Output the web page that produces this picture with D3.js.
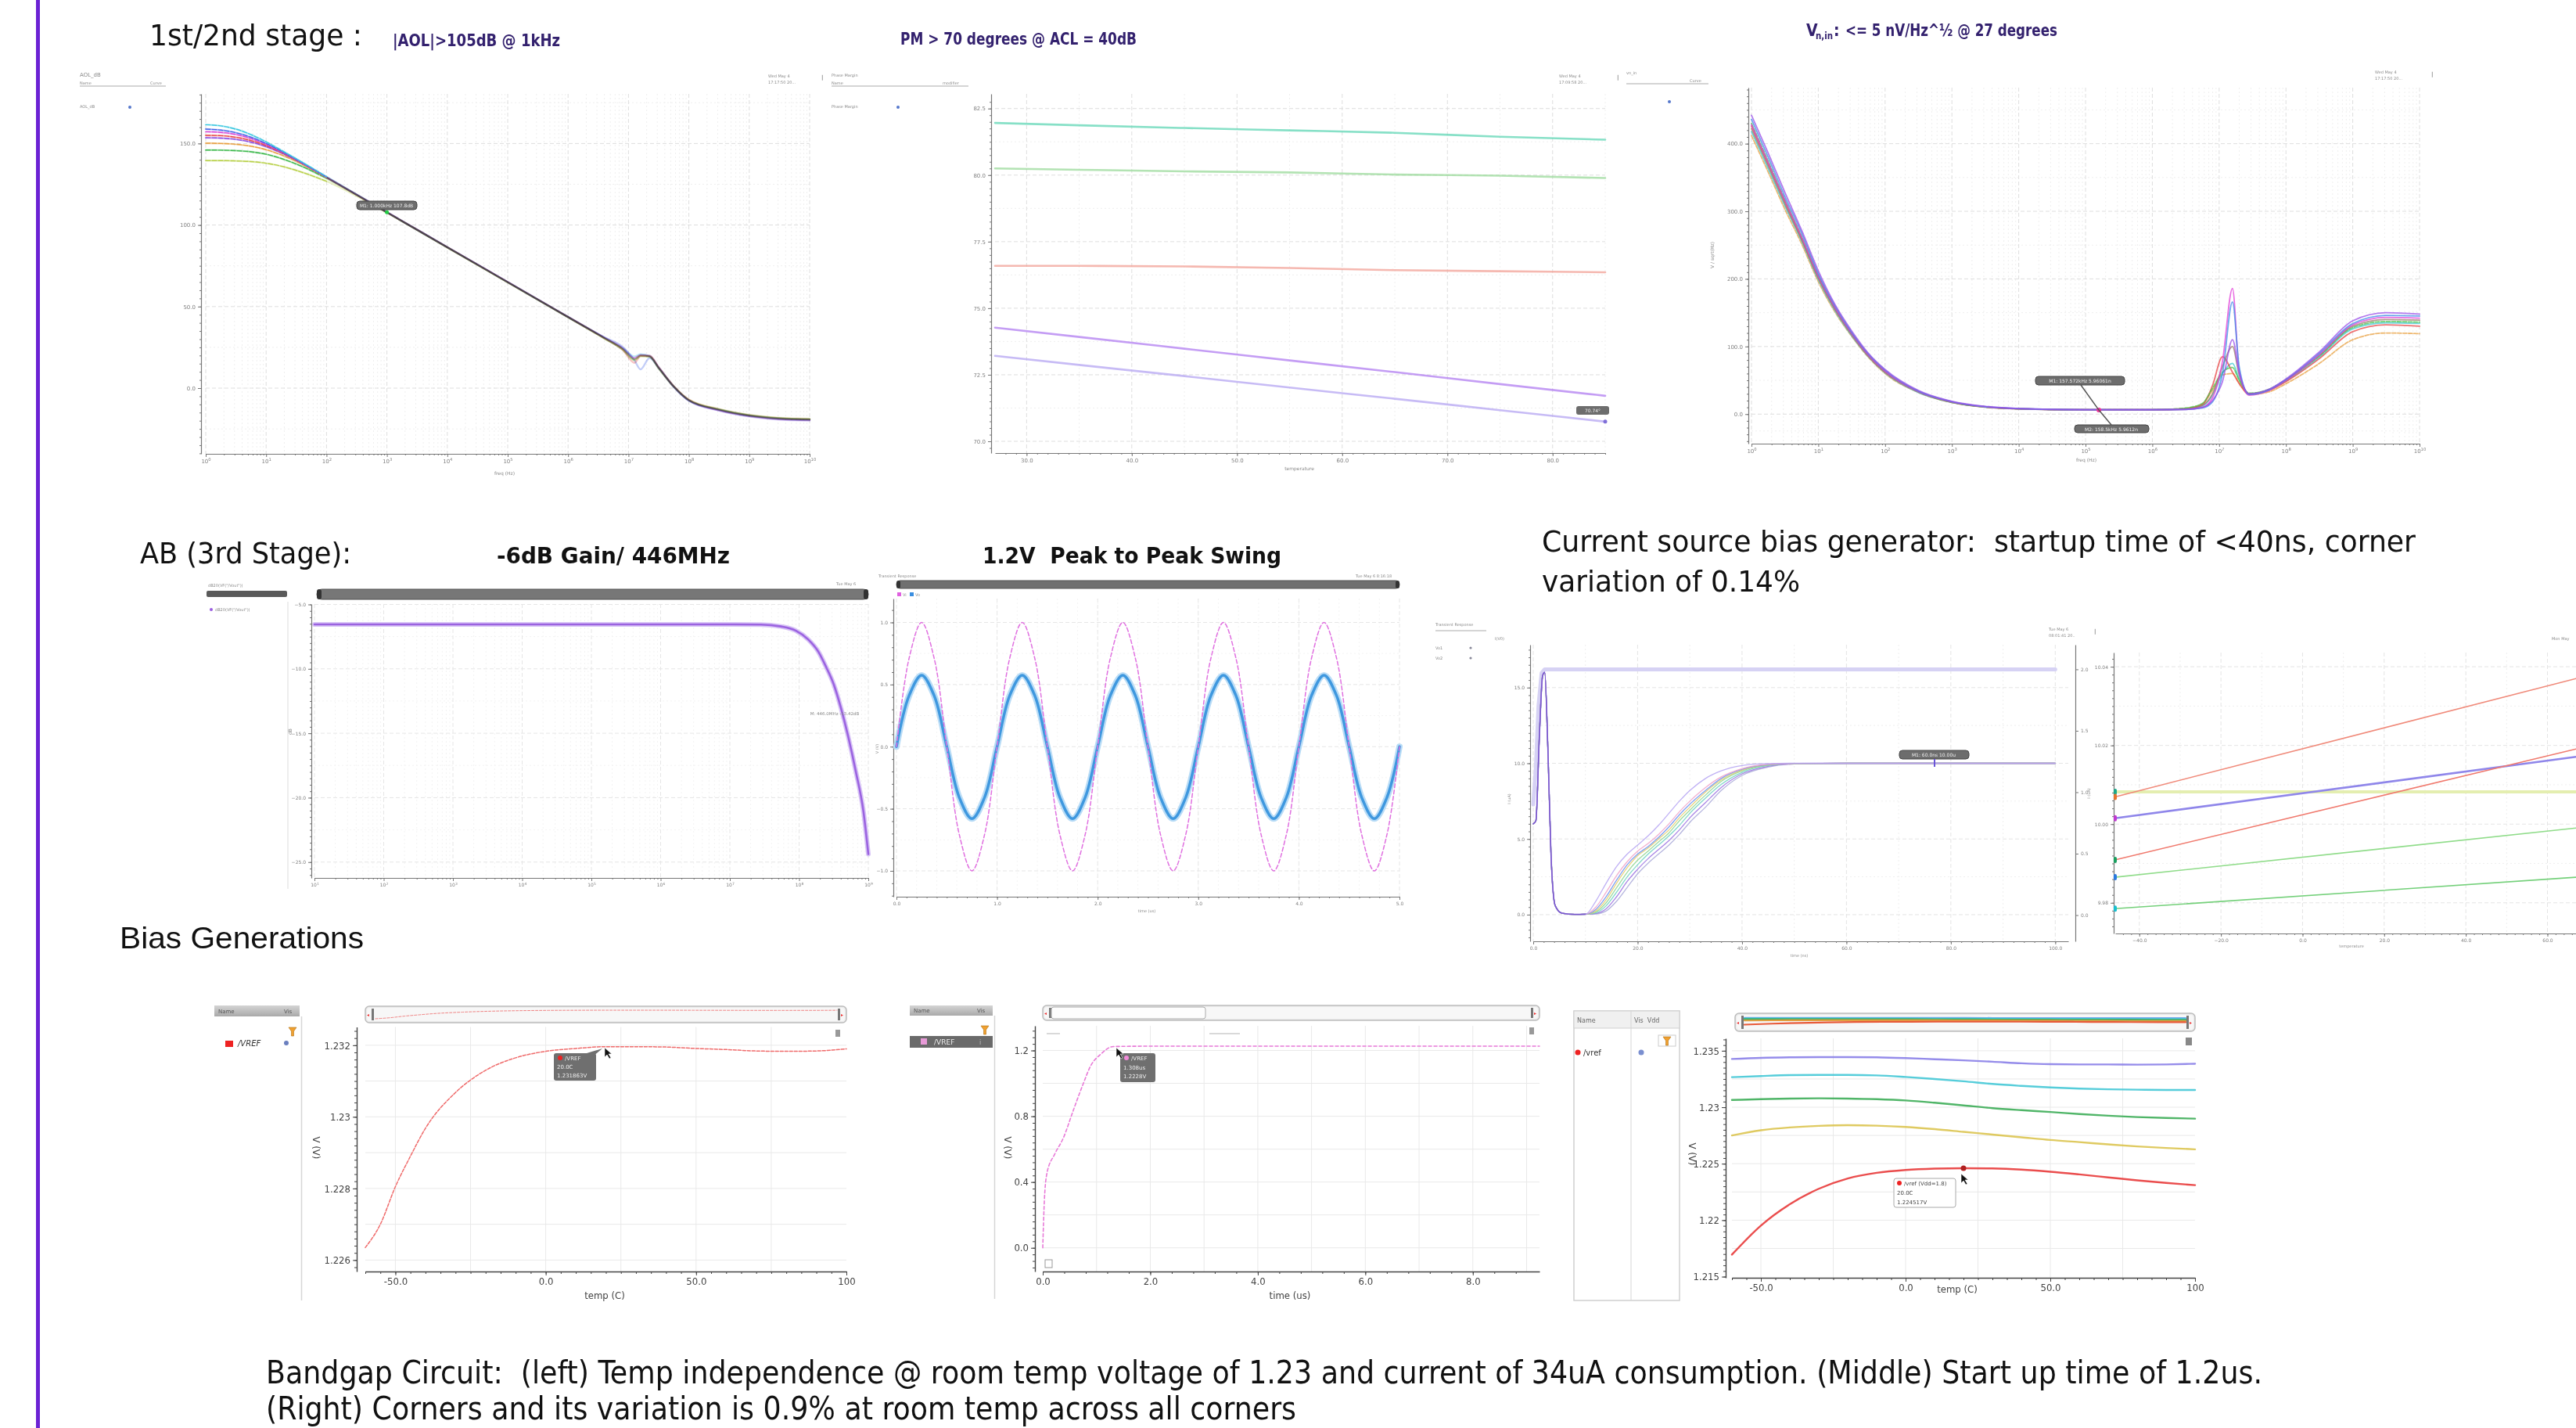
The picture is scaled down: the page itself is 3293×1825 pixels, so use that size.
<!DOCTYPE html>
<html><head><meta charset="utf-8">
<script src="https://cdn.jsdelivr.net/npm/d3@7/dist/d3.min.js"></script>
<style>html,body{margin:0;padding:0;background:#fff;overflow:hidden}svg{display:block}text{white-space:pre}</style>
</head><body>
<svg id="chart" width="3293" height="1825" xmlns="http://www.w3.org/2000/svg"></svg>
<script>
// ================= DATA =================
// 1st/2nd stage open-loop gain (dB) vs log10(freq)
const aolLogFreq = [0,0.25,0.5,0.75,1,1.25,1.5,2,3,4,5,6,6.6,6.9,7.1,7.2,7.35,7.5,7.75,8,8.5,9,9.5,10];
const aolCyan    = [161.5,160.8,158.8,155.4,151.0,145.9,140.6,129.6,107.8,86.4,65.0,43.6,30.9,24.6,19.5,20.8,19.6,12.6,1.0,-7.4,-13.2,-16.8,-18.6,-19.2];
const aolBlue    = [158.8,158.2,156.6,153.8,150.0,145.3,140.2,129.4,107.8,86.4,65.0,43.6,31.2,25.4,17.0,11.5,18.5,12.2,0.6,-7.8,-13.6,-17.2,-19.0,-19.6];
const aolMagenta = [157.2,156.8,155.5,153.0,149.4,145.0,140.0,129.3,107.9,86.5,65.1,43.7,31.0,24.8,18.6,20.2,19.4,12.4,0.8,-7.6,-13.5,-17.0,-18.9,-19.5];
const aolRed     = [155.0,154.8,153.8,151.8,148.7,144.6,139.8,129.2,107.8,86.4,65.0,43.6,30.6,23.6,15.5,19.6,19.8,12.8,1.2,-7.2,-13.3,-16.9,-18.7,-19.3];
const aolPurple  = [153.5,153.3,152.5,150.8,148.0,144.2,139.6,129.2,107.8,86.4,65.0,43.6,30.8,24.4,18.2,20.4,19.9,12.9,1.0,-7.6,-13.8,-17.4,-19.3,-19.9];
const aolOrange  = [150.2,150.0,149.5,148.3,146.2,143.0,139.0,129.0,107.7,86.3,64.9,43.5,30.7,24.1,17.8,20.0,19.5,12.5,1.2,-7.0,-12.8,-16.4,-18.2,-18.8];
const aolGreen   = [146.0,145.9,145.6,144.9,143.4,140.8,137.4,128.6,107.7,86.3,64.9,43.5,30.5,23.8,17.4,19.8,19.3,12.2,0.9,-7.3,-13.0,-16.6,-18.4,-19.0];
const aolLime    = [139.5,139.5,139.3,138.9,137.9,136.1,133.5,126.8,107.5,86.2,64.8,43.4,30.4,23.6,17.0,19.5,19.2,12.0,0.7,-7.5,-13.1,-16.7,-18.5,-19.1];
const aolTicksY = [0,50,100,150];
const aolDecades = [0,1,2,3,4,5,6,7,8,9,10];
const aolMarker = [3, 107.8];

// phase margin (deg) vs temperature
const pmTemp   = [27,35,45,55,65,75,85];
const pmTeal   = [81.96,81.87,81.77,81.68,81.59,81.44,81.33];
const pmGreen  = [80.25,80.20,80.14,80.10,80.02,79.98,79.89];
const pmSalmon = [76.59,76.59,76.57,76.51,76.43,76.39,76.35];
const pmPurple = [74.27,73.92,73.48,73.04,72.60,72.15,71.71];
const pmViolet = [73.21,72.87,72.45,72.02,71.60,71.17,70.74];
const pmTicksY = [70,72.5,75,77.5,80,82.5];
const pmTicksX = [30,40,50,60,70,80];

// input referred noise (nV/sqrt(Hz)) vs log10(freq)
const noiseLogFreq = [0,0.25,0.5,0.75,1,1.25,1.5,1.75,2,2.5,3,3.5,4,5,6,6.5,6.75,6.9,7.05,7.2,7.3,7.45,7.75,8,8.5,9,9.5,10];
const noisePurple  = [442,386,328,272,212,162,123,90,66,35,19,11.5,8.3,6.6,6.5,7.0,10,20,48,110,62,30,37,52,92,138,150,148];
const noiseBlue    = [436,380,322,268,208,160,121,89,65,34,18.5,11,8.1,6.5,6.4,6.8,9,18,60,166,70,29,36,51,90,134,146,145];
const noiseMagenta = [428,372,316,262,204,157,119,87,63,33,18,10.8,8,6.5,6.4,6.9,10,24,78,186,64,28,35,50,88,132,143,142];
const noiseBrown   = [422,367,311,258,201,155,118,86,62,33,17.8,10.7,7.9,6.4,6.4,7.2,13,30,70,100,58,30,36,50,87,130,140,139];
const noiseGreen   = [430,374,317,263,205,157,119,87,63,33,17.6,10.6,7.9,6.5,6.6,9,16,38,62,69,50,31,37,51,86,128,137,136];
const noiseRed     = [426,370,314,260,203,156,118,86,62,33,17.5,10.5,7.8,6.4,6.5,8,14,42,85,62,45,30,35,48,82,122,132,130];
const noiseCyan    = [418,363,308,256,199,153,116,85,61,32,17.3,10.4,7.8,6.4,6.4,7.5,12,28,60,75,52,30,36,49,84,126,135,134];
const noiseOrange  = [412,358,303,252,196,151,115,84,60,32,17.2,10.3,7.7,6.4,6.5,8.5,15,35,58,60,46,29,33,45,75,110,120,119];
const noiseTicksY = [0,100,200,300,400];
const noiseMarker = [5.2, 5.96];

// class AB stage gain (dB) vs log10(freq)
const abLogFreq = [1,2,3,4,5,6,7,7.45,7.74,7.95,8.13,8.28,8.39,8.5,8.6,8.71,8.82,8.93,9];
const abGainDb  = [-6.55,-6.55,-6.55,-6.55,-6.55,-6.55,-6.55,-6.56,-6.71,-7.03,-7.71,-8.68,-9.85,-11.2,-12.95,-15.27,-17.98,-21.09,-24.38];
const abTicksY = [-25,-20,-15,-10,-5];
const abDecades = [1,2,3,4,5,6,7,8,9];

// output swing transient (V) vs time (us)
const swingTime = [0,0.125,0.25,0.375,0.5,0.625,0.75,0.875,1,1.125,1.25,1.375,1.5,1.625,1.75,1.875,2,2.125,2.25,2.375,2.5,2.625,2.75,2.875,3,3.125,3.25,3.375,3.5,3.625,3.75,3.875,4,4.125,4.25,4.375,4.5,4.625,4.75,4.875,5];
const swingVin  = [0,0.71,1.0,0.71,0,-0.71,-1.0,-0.71,0,0.71,1.0,0.71,0,-0.71,-1.0,-0.71,0,0.71,1.0,0.71,0,-0.71,-1.0,-0.71,0,0.71,1.0,0.71,0,-0.71,-1.0,-0.71,0,0.71,1.0,0.71,0,-0.71,-1.0,-0.71,0];
const swingVout = [0,0.41,0.575,0.41,0,-0.41,-0.58,-0.41,0,0.41,0.575,0.41,0,-0.41,-0.58,-0.41,0,0.41,0.575,0.41,0,-0.41,-0.58,-0.41,0,0.41,0.575,0.41,0,-0.41,-0.58,-0.41,0,0.41,0.575,0.41,0,-0.41,-0.58,-0.41,0];
const swingTicksY = [-1,-0.5,0,0.5,1];
const swingTicksX = [0,1,2,3,4,5];

// current source bias startup (uA) vs time (ns)
const csTime     = [0,0.5,1.2,1.8,2.2,2.8,3.4,4.2,5.5,8,10,12,14,16,18,20,22,24,26,28,30,33,36,40,45,50,60,80,100];
const csLavender = [6.0,6.2,12.0,15.8,16.0,11.0,4.0,0.6,0.1,0.02,0.03,0.9,2.1,3.2,4.0,4.6,5.2,5.9,6.7,7.5,8.2,9.0,9.5,9.85,9.98,10.0,10.0,10.0,10.0];
const csPink     = [6.0,6.2,12.0,15.8,16.0,11.0,4.0,0.6,0.1,0.02,0.03,0.5,1.5,2.6,3.5,4.2,4.7,5.3,6.0,6.8,7.5,8.4,9.1,9.65,9.93,9.99,10.0,10.0,10.0];
const csBlue     = [6.0,6.2,12.0,15.8,16.0,11.0,4.0,0.6,0.1,0.02,0.03,0.35,1.2,2.3,3.3,4.0,4.5,5.1,5.8,6.6,7.3,8.2,9.0,9.6,9.92,9.99,10.0,10.0,10.0];
const csYellow   = [6.0,6.2,12.0,15.8,16.0,11.0,4.0,0.6,0.1,0.02,0.03,0.25,1.0,2.1,3.1,3.9,4.4,5.0,5.6,6.4,7.1,8.1,8.9,9.55,9.9,9.98,10.0,10.0,10.0];
const csGreen    = [6.0,6.2,12.0,15.8,16.0,11.0,4.0,0.6,0.1,0.02,0.03,0.18,0.8,1.8,2.8,3.6,4.2,4.8,5.4,6.2,6.9,7.9,8.8,9.5,9.88,9.98,10.0,10.0,10.0];
const csTeal     = [6.0,6.2,12.0,15.8,16.0,11.0,4.0,0.6,0.1,0.02,0.03,0.12,0.6,1.5,2.5,3.3,4.0,4.6,5.2,5.9,6.7,7.7,8.6,9.4,9.85,9.97,10.0,10.0,10.0];
const csPurple   = [6.0,6.2,12.0,15.8,16.0,11.0,4.0,0.6,0.1,0.02,0.03,0.08,0.4,1.2,2.2,3.0,3.7,4.3,4.9,5.6,6.4,7.4,8.4,9.3,9.8,9.96,10.0,10.0,10.0];
const csGrey     = [6.0,6.2,12.0,15.8,16.0,11.0,4.0,0.6,0.1,0.02,0.03,0.05,0.25,0.9,1.8,2.7,3.4,4.0,4.6,5.3,6.1,7.1,8.2,9.2,9.75,9.95,10.0,10.0,10.0];
const csSupplyTime = [0,0.5,1.0,1.6,2.2,100];
const csSupply     = [0.9,1.2,1.7,1.97,2.0,2.0];
const csTicksX = [0,20,40,60,80,100];
const csTicksY = [0,5,10,15];
const csTicksYR = [0,0.5,1,1.5,2];

// current source corners (uA) vs temperature
const ccTemp   = [-46,67];
const ccRedA   = [10.0069,10.0370];
const ccBlue   = [10.0015,10.0171];
const ccRedB   = [9.9909,10.0191];
const ccYellow = [10.0082,10.0082];
const ccGreenA = [9.9865,9.9990];
const ccGreenB = [9.9785,9.9865];
const ccTicksX = [-40,-20,0,20,40,60];
const ccTicksY = [9.98,10.0,10.02,10.04];

// bandgap VREF vs temp
const bgTemp = [-60,-55,-50,-45,-40,-30,-20,-10,0,10,20,30,40,50,60,70,80,90,100];
const bgVref = [1.22635,1.22700,1.22805,1.22890,1.22968,1.23068,1.23130,1.23165,1.23183,1.23191,1.23196,1.23196,1.23195,1.23191,1.23188,1.23184,1.23183,1.23184,1.23190];
const bgTicksY = [1.226,1.228,1.23,1.232];
const bgTicksX = [-50,0,50,100];

// bandgap startup
const suTime = [0,0.03,0.08,0.22,0.38,0.58,0.74,0.9,1.07,1.31,1.87,3,5,7,9.24];
const suVref = [0,0.289,0.457,0.568,0.666,0.847,0.987,1.112,1.175,1.224,1.226,1.2265,1.2265,1.2265,1.2265];
const suTicksY = [0,0.4,0.8,1.2];
const suTicksX = [0,2,4,6,8];

// bandgap corners
const bcTemp   = [-60,-50,-40,-30,-20,-10,0,10,20,30,40,50,60,70,80,90,100];
const bcBlue   = [1.23427,1.23437,1.23442,1.23444,1.23444,1.23442,1.23435,1.23425,1.23415,1.23403,1.23389,1.23381,1.23379,1.23379,1.23377,1.23379,1.23385];
const bcCyan   = [1.23266,1.23276,1.23284,1.23286,1.23286,1.23282,1.23268,1.2325,1.2323,1.23206,1.23189,1.23175,1.23165,1.23159,1.23155,1.23153,1.23153];
const bcGreen  = [1.23064,1.23071,1.23077,1.23079,1.23077,1.23071,1.2306,1.2304,1.23016,1.22992,1.22974,1.22958,1.2294,1.22925,1.22913,1.22905,1.22899];
const bcYellow = [1.2275,1.22796,1.22821,1.22835,1.22841,1.22837,1.22825,1.22806,1.22782,1.22758,1.22734,1.2271,1.22691,1.22671,1.22653,1.22639,1.22627];
const bcRed    = [1.21695,1.21952,1.22141,1.22278,1.22369,1.22419,1.22444,1.22456,1.2246,1.22458,1.22448,1.22429,1.22405,1.22379,1.22353,1.2233,1.2231];
const bcTicksY = [1.215,1.22,1.225,1.23,1.235];

// ================= DRAWING =================
const svg = d3.select('#chart');
const NARROW = "'Liberation Sans Narrow','Arial Narrow','DejaVu Sans Condensed',sans-serif";
const SANS = "'Liberation Sans','DejaVu Sans',Arial,sans-serif";
const TINY = "'DejaVu Sans',sans-serif";
const COND = "'DejaVu Sans Condensed','DejaVu Sans',sans-serif";

function T(x, y, s, o = {}) {
  const p = o.parent || svg;
  const t = p.append('text').attr('x', x).attr('y', y).text(s)
    .attr('font-family', o.ff || TINY).attr('font-size', o.fs || 7)
    .attr('fill', o.fill || '#8a8a8a');
  if (o.fw) t.attr('font-weight', o.fw);
  if (o.anchor) t.attr('text-anchor', o.anchor);
  if (o.len) t.attr('textLength', o.len).attr('lengthAdjust', 'spacingAndGlyphs');
  if (o.rot) t.attr('transform', `rotate(${o.rot},${x},${y})`);
  if (o.fst) t.attr('font-style', o.fst);
  return t;
}
function R(x, y, w, h, o = {}) {
  const p = o.parent || svg;
  return p.append('rect').attr('x', x).attr('y', y).attr('width', w).attr('height', h)
    .attr('rx', o.rx || 0).attr('fill', o.fill || 'none').attr('stroke', o.stroke || 'none')
    .attr('stroke-width', o.sw || 1);
}
function Ln(x1, y1, x2, y2, o = {}) {
  const p = o.parent || svg;
  const l = p.append('line').attr('x1', x1).attr('y1', y1).attr('x2', x2).attr('y2', y2)
    .attr('stroke', o.stroke || '#bbb').attr('stroke-width', o.sw || 1);
  if (o.dash) l.attr('stroke-dasharray', o.dash);
  return l;
}
function logMinor(d0, d1) {
  const a = [];
  for (let d = d0; d < d1; d++) for (let k = 2; k < 10; k++) a.push(d + Math.log10(k));
  return a;
}
function styleAx(s, st) {
  s.attr('font-family', st.ff).attr('font-size', st.fs);
  s.select('.domain').attr('stroke', st.col).attr('stroke-width', st.sw || 1.2);
  s.selectAll('.tick line').attr('stroke', st.col);
  s.selectAll('.tick text').attr('fill', st.tcol);
}

function panel(c) {
  const g = svg.append('g');
  const x = d3.scaleLinear().domain(c.xd).range(c.xr);
  const y = d3.scaleLinear().domain(c.yd).range(c.yr);
  const top = Math.min(...c.yr), bot = Math.max(...c.yr);
  const lft = Math.min(...c.xr), rgt = c.gridRight || Math.max(...c.xr);
  const gg = g.append('g');
  const vline = (v, col, dash) => { const l = gg.append('line').attr('x1', x(v)).attr('x2', x(v)).attr('y1', top).attr('y2', bot).attr('stroke', col); if (dash) l.attr('stroke-dasharray', dash); };
  const hline = (v, col, dash) => { const l = gg.append('line').attr('x1', lft).attr('x2', rgt).attr('y1', y(v)).attr('y2', y(v)).attr('stroke', col); if (dash) l.attr('stroke-dasharray', dash); };
  const mc = c.minorCol || '#efefef', gc = c.gridCol || '#dedede';
  (c.xMinorGrid || []).forEach(v => vline(v, mc, c.minorDash === undefined ? '2,3' : c.minorDash));
  (c.yMinorGrid || []).forEach(v => hline(v, mc, c.minorDash === undefined ? '2,3' : c.minorDash));
  (c.xGrid || []).forEach(v => vline(v, gc, c.gridDash === undefined ? '5,3' : c.gridDash));
  (c.yGrid || []).forEach(v => hline(v, gc, c.gridDash === undefined ? '5,3' : c.gridDash));
  const st = { ff: c.ff || TINY, fs: c.fs || 7, col: c.axisCol || '#777', tcol: c.tickCol || '#808080', sw: c.axisW || 1.2 };
  const xa = g.append('g').attr('transform', `translate(0,${c.xAxisY})`);
  if (c.xMinorTicks) xa.append('g').call(d3.axisBottom(x).tickValues(c.xMinorTicks).tickFormat('').tickSize(c.minorTick || 2).tickSizeOuter(0))
    .call(s => { s.select('.domain').remove(); s.selectAll('line').attr('stroke', st.col); });
  const xm = xa.append('g').call(d3.axisBottom(x).tickValues(c.xTicks).tickFormat(c.xFmt).tickSize(c.tick || 4).tickSizeOuter(0).tickPadding(c.pad || 3))
    .call(s => styleAx(s, st));
  if (c.logX) xm.selectAll('.tick text').each(function (d) {
    const t = d3.select(this); t.text('10');
    t.append('tspan').attr('dy', -st.fs * 0.4).attr('font-size', st.fs * 0.75).text(d);
  });
  const ya = g.append('g').attr('transform', `translate(${c.yAxisX},0)`);
  if (c.yMinorTicks) ya.append('g').call(d3.axisLeft(y).tickValues(c.yMinorTicks).tickFormat('').tickSize(c.minorTick || 2).tickSizeOuter(0))
    .call(s => { s.select('.domain').remove(); s.selectAll('line').attr('stroke', st.col); });
  ya.append('g').call(d3.axisLeft(y).tickValues(c.yTicks).tickFormat(c.yFmt).tickSize(c.tick || 4).tickSizeOuter(0).tickPadding(c.pad || 3))
    .call(s => styleAx(s, st));
  return { g, x, y, st };
}

function plot(P, xs, ys, o) {
  const gen = d3.line().x((d, i) => P.x(xs[i])).y(d => P.y(d)).curve(o.curve || d3.curveMonotoneX);
  const p = P.g.append('path').datum(ys).attr('d', gen).attr('fill', 'none')
    .attr('stroke', o.color).attr('stroke-width', o.w || 1.5)
    .attr('stroke-linejoin', 'round').attr('stroke-linecap', 'round');
  if (o.dash) p.attr('stroke-dasharray', o.dash);
  if (o.op) p.attr('stroke-opacity', o.op);
  if (o.blend) p.style('mix-blend-mode', o.blend);
  return p;
}
const f1 = d3.format('.1f');

// ---------- slide frame ----------
R(46, 0, 5, 1825, { fill: '#6b22d4' });

// ---------- headings ----------
T(191, 58, '1st/2nd stage :', { ff: NARROW, fs: 38, fill: '#111', len: 272 });
T(502, 59, '|AOL|>105dB @ 1kHz', { ff: NARROW, fs: 21, fw: 'bold', fill: '#33216e', len: 214 });
T(1151, 57, 'PM > 70 degrees @ ACL = 40dB', { ff: NARROW, fs: 21, fw: 'bold', fill: '#33216e', len: 302 });
T(2309, 46, 'V', { ff: NARROW, fs: 21, fw: 'bold', fill: '#33216e' });
T(2321, 50, 'n,in', { ff: NARROW, fs: 12, fw: 'bold', fill: '#33216e', len: 22 });
T(2344, 46, ':', { ff: NARROW, fs: 21, fw: 'bold', fill: '#33216e' });
T(2359, 46, '<= 5 nV/Hz^½ @ 27 degrees', { ff: NARROW, fs: 21, fw: 'bold', fill: '#33216e', len: 271 });
T(179, 720, 'AB (3rd Stage):', { ff: NARROW, fs: 38, fill: '#111', len: 270 });
T(635, 720, '-6dB Gain/ 446MHz', { ff: NARROW, fs: 29, fw: 'bold', fill: '#111', len: 298 });
T(1256, 720, '1.2V  Peak to Peak Swing', { ff: NARROW, fs: 29, fw: 'bold', fill: '#111', len: 382 });
T(1971, 705, 'Current source bias generator:  startup time of <40ns, corner', { ff: NARROW, fs: 38, fill: '#111', len: 1117 });
T(1971, 756, 'variation of 0.14%', { ff: NARROW, fs: 38, fill: '#111', len: 330 });
T(153, 1212, 'Bias Generations', { ff: SANS, fs: 39, fill: '#111', len: 312 });
T(340, 1768, 'Bandgap Circuit:  (left) Temp independence @ room temp voltage of 1.23 and current of 34uA consumption. (Middle) Start up time of 1.2us.', { ff: NARROW, fs: 40, fill: '#111', len: 2552 });
T(340, 1814, '(Right) Corners and its variation is 0.9% at room temp across all corners', { ff: NARROW, fs: 40, fill: '#111', len: 1317 });

// ---------- Panel A: AOL ----------
{
  T(102, 98, 'AOL_dB'); Ln(102, 110, 212, 110, { stroke: '#aaa' });
  T(102, 108, 'Name', { fs: 5 }); T(192, 108, 'Curve', { fs: 5 });
  T(102, 138, 'AOL_dB', { fs: 5 }); svg.append('circle').attr('cx', 166).attr('cy', 137).attr('r', 2).attr('fill', '#5577cc');
  T(982, 99, 'Wed May 4', { fs: 5 }); T(982, 107, '17:17:50 20...', { fs: 5 }); T(1050, 101, '|', { fs: 7, fill: '#555' });
  const P = panel({
    xd: [0, 10], xr: [263, 1035], yd: [-40.3, 180.4], yr: [580, 120], xAxisY: 580, yAxisX: 257,
    xTicks: aolDecades, yTicks: aolTicksY, xFmt: () => '10', yFmt: f1, logX: true,
    xGrid: aolDecades, yGrid: aolTicksY, xMinorGrid: logMinor(0, 10), yMinorGrid: [-25, 25, 75, 125, 175],
    xMinorTicks: logMinor(0, 10), yMinorTicks: d3.range(-40, 181, 5), fs: 7
  });
  const tr = [aolLime, aolGreen, aolOrange, aolPurple, aolRed, aolMagenta, aolBlue, aolCyan];
  const col = ['#b8d048', '#3cb84c', '#e8a040', '#8a4ae0', '#e84848', '#d84ad8', '#4466e8', '#3cc8e0'];
  tr.forEach((d, i) => plot(P, aolLogFreq, d, { color: col[i], w: 2.4, op: 0.32, blend: 'multiply' }));
  tr.forEach((d, i) => plot(P, aolLogFreq.slice(0, 8), d.slice(0, 8), { color: col[i], w: 1.4, dash: '6,2' }));
  T(645, 607, 'freq (Hz)', { anchor: 'middle', fs: 6 });
  R(456, 257, 77, 11, { rx: 4, fill: '#6d6d6d', stroke: '#444' });
  T(494, 265, 'M1: 1.000kHz 107.8dB', { fs: 6, fill: '#eee', anchor: 'middle' });
  P.g.append('circle').attr('cx', P.x(aolMarker[0])).attr('cy', P.y(aolMarker[1])).attr('r', 2.5).attr('fill', '#22cc44');
}

// ---------- Panel B: Phase margin ----------
{
  T(1063, 98, 'Phase Margin', { fs: 5 }); Ln(1063, 110, 1238, 110, { stroke: '#aaa' });
  T(1063, 108, 'Name', { fs: 5 }); T(1205, 108, 'modifier', { fs: 5 });
  T(1063, 138, 'Phase Margin', { fs: 5 }); svg.append('circle').attr('cx', 1148).attr('cy', 137).attr('r', 2).attr('fill', '#5577cc');
  T(1993, 99, 'Wed May 4', { fs: 5 }); T(1993, 107, '17:09:58 20...', { fs: 5 }); T(2067, 101, '|', { fs: 7, fill: '#555' });
  const P = panel({
    xd: [27, 85], xr: [1272, 2052], yd: [69.56, 83.05], yr: [579, 120], xAxisY: 579, yAxisX: 1267,
    xTicks: pmTicksX, yTicks: pmTicksY, xFmt: f1, yFmt: f1,
    xGrid: pmTicksX, yGrid: pmTicksY, xMinorGrid: [35, 45, 55, 65, 75, 85], yMinorGrid: [71.25, 73.75, 76.25, 78.75, 81.25],
    xMinorTicks: d3.range(28, 86, 1), yMinorTicks: d3.range(69.75, 83, 0.25), fs: 7
  });
  [[pmTeal, '#5fd6b4'], [pmGreen, '#9ad99a'], [pmSalmon, '#f2a096'], [pmPurple, '#b07cf0'], [pmViolet, '#b4a4f2']]
    .forEach(([d, c]) => plot(P, pmTemp, d, { color: c, w: 2.6, op: 0.75 }));
  T(1661, 601, 'temperature', { anchor: 'middle', fs: 6 });
  R(2015, 519, 42, 11, { rx: 3, fill: '#6d6d6d' });
  T(2036, 527, '70.74°', { fs: 6, fill: '#eee', anchor: 'middle' });
  P.g.append('circle').attr('cx', P.x(85)).attr('cy', P.y(pmViolet[6])).attr('r', 2.5).attr('fill', '#7f6fd8');
}

// ---------- Panel C: Noise ----------
{
  T(2079, 95, 'vn_in', { fs: 5 }); Ln(2079, 107, 2184, 107, { stroke: '#aaa' });
  T(2160, 105, 'Curve', { fs: 5 });
  svg.append('circle').attr('cx', 2134).attr('cy', 130).attr('r', 2).attr('fill', '#5577cc');
  T(3036, 94, 'Wed May 4', { fs: 5 }); T(3036, 102, '17:17:50 20...', { fs: 5 }); T(3108, 97, '|', { fs: 7, fill: '#555' });
  const P = panel({
    xd: [0, 10], xr: [2239, 3093], yd: [-43.7, 482.9], yr: [567, 112], xAxisY: 567, yAxisX: 2235,
    xTicks: aolDecades, yTicks: noiseTicksY, xFmt: () => '10', yFmt: f1, logX: true,
    xGrid: aolDecades, yGrid: noiseTicksY, xMinorGrid: logMinor(0, 10), yMinorGrid: [-25, 50, 150, 250, 350, 450],
    xMinorTicks: logMinor(0, 10), yMinorTicks: d3.range(-40, 481, 10), fs: 7
  });
  const tr = [noiseOrange, noiseCyan, noiseRed, noiseGreen, noiseBrown, noiseMagenta, noiseBlue, noisePurple];
  const col = ['#e8a040', '#3cc8d0', '#e84444', '#45c24a', '#9a7a6a', '#e03fd8', '#3d8be8', '#9a4de8'];
  tr.forEach((d, i) => plot(P, noiseLogFreq, d, { color: col[i], w: 1.8, op: 0.75, dash: i === 0 || i === 3 ? '5,2' : null }));
  T(2667, 590, 'freq (Hz)', { anchor: 'middle', fs: 6 });
  T(2191, 326, 'V / sqrt(Hz)', { anchor: 'middle', fs: 6, rot: -90 });
  const mx = P.x(noiseMarker[0]), my = P.y(noiseMarker[1]);
  Ln(2660, 492, mx, my, { stroke: '#555', sw: 1.5 });
  Ln(2699, 543, mx, my, { stroke: '#555', sw: 1.5 });
  R(2602, 481, 114, 11, { rx: 4, fill: '#6d6d6d', stroke: '#444' });
  T(2659, 489, 'M1: 157.572kHz 5.96061n', { fs: 6, fill: '#eee', anchor: 'middle' });
  R(2652, 543, 95, 10, { rx: 4, fill: '#6d6d6d', stroke: '#444' });
  T(2699, 551, 'M2: 158.5kHz 5.9612n', { fs: 6, fill: '#eee', anchor: 'middle' });
  P.g.append('circle').attr('cx', mx).attr('cy', my).attr('r', 3).attr('fill', '#ee3399');
}

// ---------- Panel D: AB gain ----------
{
  R(264, 755, 103, 8, { fill: '#5a5a5a', rx: 2 });
  T(266, 750, 'dB20(VF("/Vout"))', { fs: 5 });
  svg.append('circle').attr('cx', 270).attr('cy', 779).attr('r', 2).attr('fill', '#9a5de0');
  T(275, 781, 'dB20(VF("/Vout"))', { fs: 5 });
  Ln(368, 769, 368, 1136, { stroke: '#ddd' });
  R(405, 753, 705, 13, { rx: 6.5, fill: '#777', stroke: '#555' });
  R(405, 753, 6, 13, { rx: 3, fill: '#333' }); R(1104, 753, 6, 13, { rx: 3, fill: '#333' });
  T(1069, 748, 'Tue May 6', { fs: 5 });
  const P = panel({
    xd: [1, 9], xr: [402, 1110], yd: [-26.23, -4.97], yr: [1122, 772], xAxisY: 1122, yAxisX: 398,
    xTicks: abDecades, yTicks: abTicksY, xFmt: () => '10', yFmt: f1, logX: true,
    xGrid: abDecades, yGrid: abTicksY, xMinorGrid: logMinor(1, 9), yMinorGrid: [-22.5, -17.5, -12.5, -7.5],
    xMinorTicks: logMinor(1, 9), yMinorTicks: d3.range(-26, -4.9, 0.5), fs: 6, gridCol: '#e6e6e6', minorCol: '#f3f3f3'
  });
  plot(P, abLogFreq, abGainDb, { color: '#d8c4f6', w: 6 });
  plot(P, abLogFreq, abGainDb, { color: '#9b63e0', w: 2.6 });
  T(1067, 914, 'M: 446.0MHz -13.42dB', { fs: 5.5, anchor: 'middle' });
  T(373, 935, 'dB', { fs: 6, rot: -90, anchor: 'middle' });
}

// ---------- Panel E: swing ----------
{
  T(1123, 738, 'Transient Response', { fs: 5 });
  T(1733, 738, 'Tue May 6 8:16:18', { fs: 5 });
  R(1146, 742, 643, 10, { rx: 5, fill: '#707070', stroke: '#555' });
  R(1146, 742, 5, 10, { rx: 2.5, fill: '#333' }); R(1784, 742, 5, 10, { rx: 2.5, fill: '#333' });
  R(1147, 757, 5, 5, { fill: '#e060e0' }); T(1154, 762, 'Vi', { fs: 5 });
  R(1163, 757, 5, 5, { fill: '#3a8ee0' }); T(1170, 762, 'Vo', { fs: 5 });
  const P = panel({
    xd: [0, 5], xr: [1146, 1789], yd: [-1.208, 1.192], yr: [1146, 765], xAxisY: 1146, yAxisX: 1142,
    xTicks: swingTicksX, yTicks: swingTicksY, xFmt: f1, yFmt: f1,
    xGrid: swingTicksX, yGrid: swingTicksY, xMinorGrid: d3.range(0.2, 5, 0.2), yMinorGrid: [-0.75, -0.25, 0.25, 0.75],
    xMinorTicks: d3.range(0, 5.01, 0.1), yMinorTicks: d3.range(-1.2, 1.2, 0.1), fs: 6, gridCol: '#e6e6e6', minorCol: '#f4f4f4'
  });
  plot(P, swingTime, swingVout, { color: '#b9dcf6', w: 8, curve: d3.curveCatmullRom });
  plot(P, swingTime, swingVout, { color: '#3f98df', w: 3.5, curve: d3.curveCatmullRom });
  plot(P, swingTime, swingVin, { color: '#e070e0', w: 1.5, dash: '5,3', curve: d3.curveCatmullRom });
  T(1123, 957, 'V (V)', { fs: 5, rot: -90, anchor: 'middle' });
  T(1466, 1166, 'time (us)', { fs: 5, anchor: 'middle' });
}

// ---------- Panel F: current source startup ----------
{
  T(1835, 800, 'Transient Response', { fs: 5 }); Ln(1835, 806, 1900, 806, { stroke: '#aaa' });
  T(1835, 830, 'Vo1', { fs: 5 }); T(1835, 843, 'Vo2', { fs: 5 });
  svg.append('circle').attr('cx', 1880).attr('cy', 828).attr('r', 1.6).attr('fill', '#889');
  svg.append('circle').attr('cx', 1880).attr('cy', 841).attr('r', 1.6).attr('fill', '#889');
  T(1911, 818, 'I(V0)', { fs: 5 });
  T(2619, 806, 'Tue May 6', { fs: 5 }); T(2619, 814, '08:01:41 20..', { fs: 5 }); T(2677, 809, '|', { fs: 7, fill: '#555' });
  const P = panel({
    xd: [0, 102.5], xr: [1960, 2644], yd: [-1.76, 17.83], yr: [1203, 824], xAxisY: 1203, yAxisX: 1956,
    xTicks: csTicksX, yTicks: csTicksY, xFmt: f1, yFmt: f1,
    xGrid: csTicksX, yGrid: csTicksY, xMinorGrid: [10, 30, 50, 70, 90], yMinorGrid: [2.5, 7.5, 12.5],
    xMinorTicks: d3.range(0, 102, 2), yMinorTicks: d3.range(-1.5, 17.8, 0.5), fs: 6, gridCol: '#e4e4e4'
  });
  const yR = d3.scaleLinear().domain([-0.213, 2.2]).range([1203, 824]);
  P.g.append('g').attr('transform', 'translate(2653,0)')
    .call(d3.axisRight(yR).tickValues(csTicksYR).tickFormat(f1).tickSize(4).tickSizeOuter(0))
    .call(s => styleAx(s, P.st));
  plot({ g: P.g, x: P.x, y: yR }, csSupplyTime, csSupply, { color: '#d6d2f4', w: 5, curve: d3.curveLinear });
  const tr = [csGrey, csPurple, csTeal, csGreen, csYellow, csBlue, csPink, csLavender];
  const col = ['#a8a8d8', '#9a70e0', '#6cd0c0', '#8ed68e', '#e6cc6a', '#6a8ff0', '#f0a0c8', '#b4a2f2'];
  tr.forEach((d, i) => plot(P, csTime, d, { color: col[i], w: 1.3, op: 0.85 }));
  plot(P, csTime.slice(0, 11), csPurple.slice(0, 11), { color: '#7a58d0', w: 1.6 });
  T(2300, 1223, 'time (ns)', { fs: 5, anchor: 'middle' });
  T(1931, 1021, 'I (uA)', { fs: 5, rot: -90, anchor: 'middle' });
  R(2428, 959, 89, 11, { rx: 4, fill: '#6d6d6d', stroke: '#444' });
  T(2472, 967, 'M1: 60.0ns 10.00u', { fs: 6, fill: '#eee', anchor: 'middle' });
  Ln(2473, 970, 2473, 980, { stroke: '#6a55d8', sw: 2 });
}

// ---------- Panel G: current source corners ----------
{
  T(3262, 818, 'Mon May', { fs: 5 });
  const P = panel({
    xd: [-45.9, 67], xr: [2704, 3293], yd: [9.9722, 10.0436], yr: [1193, 834], xAxisY: 1193, yAxisX: 2702,
    xTicks: ccTicksX, yTicks: ccTicksY, xFmt: f1, yFmt: d3.format('.2f'),
    xGrid: ccTicksX, yGrid: ccTicksY, xMinorGrid: [-30, -10, 10, 30, 50], yMinorGrid: [9.99, 10.01, 10.03],
    xMinorTicks: d3.range(-44, 67, 2), yMinorTicks: d3.range(9.974, 10.043, 0.002), fs: 6, gridCol: '#e4e4e4'
  });
  plot(P, ccTemp, ccYellow, { color: '#e4eeb0', w: 4, curve: d3.curveLinear });
  [[ccRedA, '#f08a7a', 1.6], [ccBlue, '#8f86ea', 2.6], [ccRedB, '#f07a6e', 1.6], [ccGreenA, '#90dc8a', 1.6], [ccGreenB, '#74d07a', 1.6]]
    .forEach(([d, c, w]) => plot(P, ccTemp, d, { color: c, w: w, curve: d3.curveLinear }));
  const dots = [[ccYellow, '#1aa88a'], [ccRedA, '#e8742c'], [ccBlue, '#c03ad0'], [ccRedB, '#18a060'], [ccGreenA, '#2a7ae0'], [ccGreenB, '#19c0d0']];
  dots.forEach(([d, c]) => P.g.append('rect').attr('x', P.x(ccTemp[0]) - 1.5).attr('y', P.y(d[0]) - 4).attr('width', 4).attr('height', 8).attr('rx', 2).attr('fill', c));
  T(3006, 1211, 'temperature', { fs: 5, anchor: 'middle' });
  T(2672, 1014, 'I (uA)', { fs: 5, rot: -90, anchor: 'middle' });
}

// ---------- helpers for the bandgap (ADE-style) plots ----------
function legendHeader(x, y, w, h, c1, c2) {
  const grad = svg.append('defs').append('linearGradient').attr('id', 'hg' + x).attr('x1', 0).attr('x2', 0).attr('y1', 0).attr('y2', 1);
  grad.append('stop').attr('offset', 0).attr('stop-color', '#d4d4d4');
  grad.append('stop').attr('offset', 1).attr('stop-color', '#a9a9a9');
  svg.append('rect').attr('x', x).attr('y', y).attr('width', w).attr('height', h).attr('fill', `url(#hg${x})`);
  T(x + 5, y + h - 4, c1, { fs: 7, fill: '#555' });
  T(x + w - 20, y + h - 4, c2, { fs: 7, fill: '#555' });
}
function scrollBar(x, y, w, h) {
  R(x, y, w, h, { rx: 5, fill: '#ececec', stroke: '#bcbcbc', sw: 1.5 });
  R(x + 2, y + 2, w - 4, h - 4, { rx: 4, fill: '#f7f7f7' });
  R(x + 8, y + 3, 3, h - 6, { fill: '#777' }); R(x + w - 11, y + 3, 3, h - 6, { fill: '#777' });
  T(x + 2, y + h / 2 + 2, '◂', { fs: 6, fill: '#e33' }); T(x + w - 7, y + h / 2 + 2, '▸', { fs: 6, fill: '#e33' });
}
function filterIcon(x, y) {
  svg.append('path').attr('d', `M${x - 5},${y - 5} L${x + 5},${y - 5} L${x + 1.5},${y} L${x + 1.5},${y + 6} L${x - 1.5},${y + 6} L${x - 1.5},${y} Z`).attr('fill', '#f0a030').attr('stroke', '#b07010').attr('stroke-width', 0.6);
}
function cursor(x, y) {
  svg.append('path').attr('d', `M${x},${y} L${x},${y + 12} L${x + 3},${y + 9} L${x + 6},${y + 14} L${x + 8},${y + 13} L${x + 5},${y + 8} L${x + 9},${y + 8} Z`).attr('fill', '#111').attr('stroke', '#fff').attr('stroke-width', 0.6);
}
const bgStyle = { ff: COND, fs: 13, axisCol: '#444', tickCol: '#444', axisW: 1.4, gridCol: '#e9e9e9', gridDash: null, minorCol: '#f4f4f4', minorDash: null, tick: 5, minorTick: 3 };
const tempFmt = d => d === 100 ? '100' : d.toFixed(1);
const vFmt = d => String(+d.toFixed(3));

// ---------- Panel H: bandgap temp ----------
{
  legendHeader(274, 1285, 109, 14, 'Name', 'Vis');
  Ln(385.5, 1299, 385.5, 1662, { stroke: '#d6d6d6', sw: 1.5 });
  filterIcon(374, 1318);
  R(288, 1330, 10, 8, { fill: '#e22' });
  T(304, 1337, '/VREF', { fs: 10, fill: '#333', fst: 'italic' });
  svg.append('circle').attr('cx', 366).attr('cy', 1333).attr('r', 3).attr('fill', '#6a7fbf');
  scrollBar(467, 1286, 615, 21);
  const mini = { g: svg.append('g'), x: d3.scaleLinear().domain([-60, 100]).range([480, 1070]), y: d3.scaleLinear().domain([1.2258, 1.2325]).range([1303, 1290]) };
  plot(mini, bgTemp, bgVref, { color: '#f08080', w: 1, dash: '3,2' });
  const P = panel(Object.assign({
    xd: [-60, 100], xr: [467, 1082], yd: [1.22568, 1.23251], yr: [1625, 1312.5], xAxisY: 1625, yAxisX: 456,
    xTicks: bgTicksX, yTicks: bgTicksY, xFmt: tempFmt, yFmt: vFmt,
    xGrid: [-50, -25, 0, 25, 50, 75], yGrid: [1.226, 1.227, 1.228, 1.229, 1.23, 1.231, 1.232],
    xMinorTicks: d3.range(-60, 101, 5), yMinorTicks: d3.range(1.2258, 1.2325, 0.0002)
  }, bgStyle));
  plot(P, bgTemp, bgVref, { color: '#ef6b6b', w: 1.5, dash: '4,2' });
  T(773, 1660, 'temp (C)', { ff: COND, fs: 13, fill: '#444', anchor: 'middle' });
  T(400, 1467, 'V (V)', { ff: COND, fs: 13, fill: '#444', anchor: 'middle', rot: 90 });
  R(708, 1346, 54, 35, { rx: 3, fill: '#6f6f6f' });
  svg.append('path').attr('d', 'M750,1346 L770,1340 L758,1350 Z').attr('fill', '#6f6f6f');
  svg.append('circle').attr('cx', 716).attr('cy', 1352).attr('r', 3).attr('fill', '#e22');
  T(722, 1355, '/VREF', { fs: 7, fill: '#eee' });
  T(712, 1366, '20.0C', { fs: 7, fill: '#eee' });
  T(712, 1377, '1.231863V', { fs: 7, fill: '#eee' });
  cursor(773, 1339);
  R(1068, 1316, 6, 9, { fill: '#999' });
}

// ---------- Panel I: bandgap startup ----------
{
  legendHeader(1163, 1285, 106, 13, 'Name', 'Vis');
  R(1163, 1324, 106, 15, { fill: '#6a6a6a' });
  R(1177, 1327, 8, 8, { fill: '#e89ad8' });
  T(1194, 1335, '/VREF', { fs: 9, fill: '#eee' });
  T(1252, 1335, 'i', { fs: 8, fill: '#bbb' });
  Ln(1271.5, 1298, 1271.5, 1660, { stroke: '#d6d6d6', sw: 1.5 });
  filterIcon(1259, 1316);
  scrollBar(1333, 1285, 635, 19);
  R(1344, 1287, 197, 15, { rx: 3, fill: '#fdfdfd', stroke: '#aaa' });
  const P = panel(Object.assign({
    xd: [0, 9.24], xr: [1333, 1968], yd: [-0.144, 1.35], yr: [1625, 1311], xAxisY: 1625, yAxisX: 1323,
    xTicks: suTicksX, yTicks: suTicksY, xFmt: f1, yFmt: f1,
    xGrid: [1, 2, 3, 4, 5, 6, 7, 8, 9], yGrid: [0, 0.2, 0.4, 0.6, 0.8, 1.0, 1.2],
    xMinorTicks: d3.range(0, 9.2, 0.4), yMinorTicks: d3.range(-0.12, 1.35, 0.04)
  }, bgStyle));
  plot(P, suTime, suVref, { color: '#e87ad8', w: 1.6, dash: '4,3' });
  T(1649, 1660, 'time (us)', { ff: COND, fs: 13, fill: '#444', anchor: 'middle' });
  T(1284, 1467, 'V (V)', { ff: COND, fs: 13, fill: '#444', anchor: 'middle', rot: 90 });
  Ln(1338, 1321, 1355, 1321, { stroke: '#ccc', sw: 1.5 }); Ln(1546, 1321, 1585, 1321, { stroke: '#ccc', sw: 1.5 });
  R(1432, 1346, 45, 37, { rx: 3, fill: '#6f6f6f' });
  svg.append('circle').attr('cx', 1440).attr('cy', 1352).attr('r', 3).attr('fill', '#f08ad8');
  T(1446, 1355, '/VREF', { fs: 7, fill: '#eee' });
  T(1436, 1367, '1.308us', { fs: 7, fill: '#eee' });
  T(1436, 1378, '1.2228V', { fs: 7, fill: '#eee' });
  cursor(1427, 1339);
  R(1336, 1610, 9, 10, { fill: 'none', stroke: '#999' });
  R(1955, 1313, 6, 9, { fill: '#999' });
}

// ---------- Panel J: bandgap corners ----------
{
  R(2012, 1292, 135, 370, { fill: '#fff', stroke: '#d0d0d0', sw: 1.5 });
  R(2012, 1292, 135, 22, { fill: '#f0f0f0', stroke: '#d0d0d0' });
  T(2016, 1307, 'Name', { fs: 8, fill: '#666' }); T(2089, 1307, 'Vis  Vdd', { fs: 8, fill: '#666' });
  Ln(2085, 1292, 2085, 1662, { stroke: '#d6d6d6' });
  R(2120, 1323, 22, 14, { fill: '#fff', stroke: '#ccc' }); filterIcon(2131, 1330);
  svg.append('circle').attr('cx', 2017).attr('cy', 1345).attr('r', 3.5).attr('fill', '#e22');
  T(2024, 1349, '/vref', { fs: 10, fill: '#333' });
  svg.append('circle').attr('cx', 2098).attr('cy', 1345).attr('r', 3.5).attr('fill', '#7a8fd0');
  scrollBar(2218, 1295, 588, 23);
  const mini = { g: svg.append('g'), x: d3.scaleLinear().domain([-60, 100]).range([2230, 2794]), y: d3.scaleLinear().domain([1.214, 1.236]).range([1311, 1300]) };
  [[bcBlue, '#7aa8ee'], [bcCyan, '#3fc5d5'], [bcGreen, '#3daa55'], [bcYellow, '#e2a040'], [bcRed, '#e85a3a']]
    .forEach(([d, c]) => plot(mini, bcTemp, d, { color: c, w: 2.2 }));
  const P = panel(Object.assign({
    xd: [-60, 100], xr: [2214, 2806], yd: [1.2149, 1.2361], yr: [1633, 1327], xAxisY: 1633, yAxisX: 2206,
    xTicks: bgTicksX, yTicks: bcTicksY, xFmt: tempFmt, yFmt: vFmt,
    xGrid: [-50, -25, 0, 25, 50, 75], yGrid: [1.2175, 1.22, 1.2225, 1.225, 1.2275, 1.23, 1.2325, 1.235],
    xMinorTicks: d3.range(-60, 101, 5), yMinorTicks: d3.range(1.215, 1.2361, 0.0005)
  }, bgStyle));
  [[bcBlue, '#8a80e8'], [bcCyan, '#44c8d6'], [bcGreen, '#3dad58'], [bcYellow, '#dcc450'], [bcRed, '#e83a3a']]
    .forEach(([d, c]) => plot(P, bcTemp, d, { color: c, w: 2.4, op: 0.9 }));
  T(2502, 1652, 'temp (C)', { ff: COND, fs: 13, fill: '#444', anchor: 'middle' });
  T(2159, 1475, 'V (V)', { ff: COND, fs: 13, fill: '#444', anchor: 'middle', rot: 90 });
  R(2421, 1506, 79, 37, { rx: 3, fill: '#fff', stroke: '#aaa' });
  svg.append('circle').attr('cx', 2428).attr('cy', 1512).attr('r', 3).attr('fill', '#e22');
  T(2434, 1515, '/vref (Vdd=1.8)', { fs: 7, fill: '#444' });
  T(2425, 1527, '20.0C', { fs: 7, fill: '#444' });
  T(2425, 1539, '1.224517V', { fs: 7, fill: '#444' });
  P.g.append('circle').attr('cx', P.x(20)).attr('cy', P.y(bcRed[8])).attr('r', 3.5).attr('fill', '#b02020');
  cursor(2507, 1500);
  R(2794, 1326, 8, 10, { fill: '#888' });
}
</script>
</body></html>
